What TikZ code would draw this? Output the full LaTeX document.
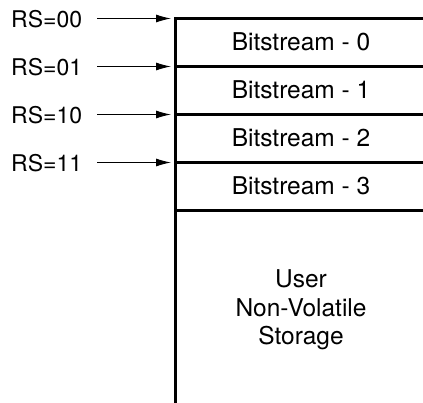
\documentclass[tikz,border=0pt]{standalone}
\usepackage{fontspec}
\setmainfont{TeX Gyre Heros}
\usetikzlibrary{arrows.meta}
\begin{document}
\begin{tikzpicture}[x=1pt,y=-1pt,
  wall/.style={line width=3.5pt,line cap=rect},
  rslabel/.style={anchor=west,inner sep=0pt,font=\fontsize{23}{27}\selectfont},
  slotlabel/.style={inner sep=0pt,align=center,font=\fontsize{24.5}{28.3}\selectfont},
  ptr/.style={line width=1pt,-{Latex[length=15pt,width=8pt]}}]
\useasboundingbox (0,0) rectangle (423,403);
% memory stack: left wall and slot boundaries
\coordinate (top) at (175.5,18.5);
\coordinate (bot) at (175.5,403);
\draw[wall] (top) -- (bot);
\foreach \y/\n in {18.5/0,66.5/1,114.5/2,162.5/3,210.5/4}{
  \coordinate (b\n) at (175.5,\y);
  \coordinate (e\n) at (423,\y);
  \draw[wall] (b\n) -- (e\n);
}
% slot contents
\node[slotlabel] (bs0) at (301,42) {Bitstream - 0};
\node[slotlabel] (bs1) at (301,90) {Bitstream - 1};
\node[slotlabel] (bs2) at (301,138) {Bitstream - 2};
\node[slotlabel] (bs3) at (301,186) {Bitstream - 3};
\node[slotlabel] (user) at (301,310) {User\\Non-Volatile\\Storage};
% register-select pointers
\foreach \n/\t/\y in {0/RS=00/18.5,1/RS=01/66.5,2/RS=10/114.5,3/RS=11/162.5}{
  \node[rslabel] (rs\n) at (11,\y+1) {\t};
  \coordinate (p\n) at (97,\y);
  \coordinate (t\n) at (171,\y);
  \draw[ptr] (p\n) -- (t\n);
}
\end{tikzpicture}
\end{document}
